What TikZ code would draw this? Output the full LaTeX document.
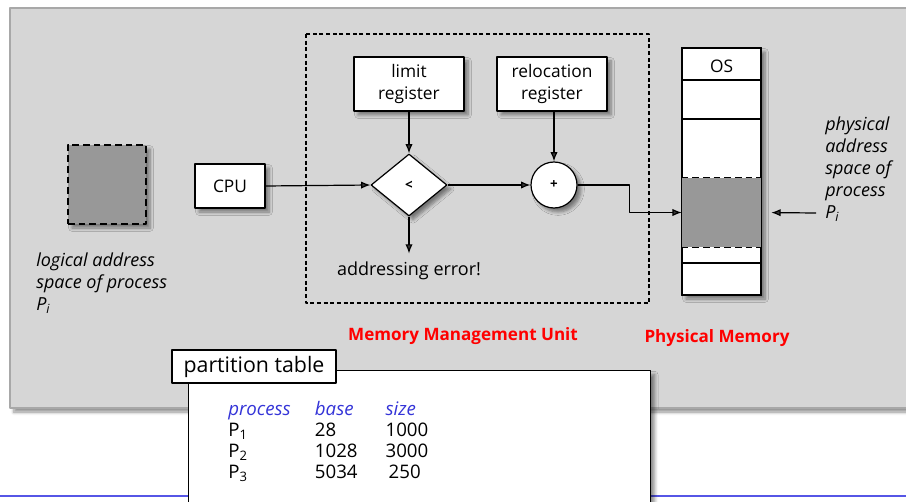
\documentclass[tikz,border=0pt]{standalone}
\usepackage{fontspec}
\setmainfont{Open Sans}
\usetikzlibrary{
    shapes.geometric,   % diamond for the compare step
    arrows.meta,        % arrow tips
    shadows.blur,       % soft shadows under the boxes
    positioning
}
\newcommand{\px}{0.75pt}
\newcommand{\headcell}[1]{\textcolor{headblue}{\itshape #1}}
\definecolor{panelgray}{HTML}{D6D6D6}
\definecolor{blockgray}{HTML}{989898}
\definecolor{rulegray}{HTML}{A8A8A8}
\definecolor{headblue}{HTML}{3434D8}
\definecolor{lineblue}{HTML}{5656E6}
\tikzset{
    soft shadow/.style={blur shadow={shadow xshift=3pt, shadow yshift=-3pt,
        shadow blur steps=6, shadow blur radius=2.5pt, shadow opacity=45}},
    reg box/.style={draw, fill=white, line width=0.9pt, align=center,
        minimum width=110*\px, minimum height=54*\px, inner sep=0pt,
        font=\fontsize{13}{17}\selectfont, soft shadow},
    op node/.style={draw, fill=white, line width=0.9pt, inner sep=0pt,
        font=\fontsize{10}{12}\selectfont\bfseries, soft shadow},
    flow arrow/.style={-{Latex[length=7pt, width=5.5pt]}, line width=0.9pt},
    side label/.style={align=left, inner sep=0pt,
        font=\fontsize{13.5}{16.5}\selectfont\itshape},
    unit label/.style={text=red, inner sep=0pt,
        font=\fontsize{12.8}{15}\selectfont\bfseries},
    gray block/.style={fill=blockgray, inner sep=0pt}
}

\begin{document}
\begin{tikzpicture}[x=\px, y=-\px, line join=round]
        \useasboundingbox (0,0) rectangle (906,502);

        % grey slide panel and blue rule
        \fill[panelgray, draw=rulegray, line width=1pt, soft shadow] (10,8) rectangle (930,408);
        \draw[lineblue, line width=2pt] (0,496) -- (906,496);

        % logical address space
        \node (lspace) [gray block, draw, dashed, dash pattern=on 5pt off 3pt, line width=0.9pt,
            minimum width=78*\px, minimum height=79*\px, soft shadow] at (107,184.5) {};
        \node (llabel) [side label, anchor=north west] at (36,253)
            {logical address\\space of process\\\textit{P}\textsubscript{\textit{i}}};

        % CPU
        \node (cpu) [reg box, minimum width=70*\px, minimum height=44*\px] at (230,186) {CPU};

        % memory management unit
        \draw[dashed, dash pattern=on 3pt off 2pt, line width=0.8pt] (306,34) rectangle (649,303);
        \node (limit) [reg box] at (409,84) {limit\\register};
        \node (reloc) [reg box] at (552,84) {relocation\\register};
        \node (cmp) [op node, diamond, minimum width=76*\px, minimum height=62*\px] at (409,185) {<};
        \node (add) [op node, circle, minimum size=46*\px] at (554,185) {+};
        \node (err) [inner sep=0pt, font=\fontsize{13.5}{16}\selectfont] at (409,271) {addressing error!};
        \node (mmu) [unit label] at (463,336) {Memory Management Unit};

        % physical memory
        \node (mem) [draw, fill=white, line width=0.9pt, minimum width=79*\px, minimum height=247*\px,
            inner sep=0pt, soft shadow] at (721.5,171.5) {};
        \node (pspace) [gray block, minimum width=79*\px, minimum height=69*\px] at (721.5,212.5) {};
        \draw[line width=0.9pt] (mem.north west) rectangle (mem.south east);
        \draw[line width=0.9pt] (682,80) -- (761,80);
        \draw[line width=0.9pt] (682,119) -- (761,119);
        \draw[line width=0.9pt] (682,263) -- (761,263);
        \draw[line width=0.8pt, dashed, dash pattern=on 5pt off 3pt] (pspace.north west) -- (pspace.north east);
        \draw[line width=0.8pt, dashed, dash pattern=on 5pt off 3pt] (pspace.south west) -- (pspace.south east);
        \node (os) [inner sep=0pt, font=\fontsize{13}{16}\selectfont] at (721.5,66) {OS};
        \node (phys) [unit label] at (717,338) {Physical Memory};
        \node (plabel) [side label, anchor=north west] at (825,117)
            {physical\\address\\space of\\process\\\textit{P}\textsubscript{\textit{i}}};
        \coordinate (pin) at (816,213);

        % connecting arrows
        \draw[flow arrow] (cpu.east) -- (cmp.west);
        \draw[flow arrow] (limit.south) -- (cmp.north);
        \draw[flow arrow] (reloc.south -| add.north) -- (add.north);
        \draw[flow arrow] (cmp.east) -- (add.west);
        \draw[flow arrow] (cmp.south) -- ++(0,37);
        \draw[flow arrow] (add.east) -- ++(52,0) |- (pspace.west);
        \draw[flow arrow, shorten >=10*\px] (pin) -- (pspace.east);

        % partition table
        \node (ptable) [draw, fill=white, line width=1pt, anchor=north west, minimum width=462*\px,
            minimum height=150*\px, inner sep=0pt, soft shadow] at (188,370) {};
        \node (ptab) [draw, fill=white, line width=1pt, minimum width=164*\px, minimum height=33*\px,
            inner sep=0pt, font=\fontsize{16}{18}\selectfont] at (254,366.5) {partition table};
        \node (pdata) [anchor=north west, inner sep=0pt, font=\fontsize{14}{15.75}\selectfont] at (228,401) {%
            \begin{tabular}{@{}p{65pt}@{}p{53pt}@{}l@{}}
                \headcell{process} & \headcell{base} & \headcell{size} \\
                P\textsubscript{1} & 28   & 1000 \\
                P\textsubscript{2} & 1028 & 3000 \\
                P\textsubscript{3} & 5034 & \,250 \\
            \end{tabular}};
\end{tikzpicture}
\end{document}
